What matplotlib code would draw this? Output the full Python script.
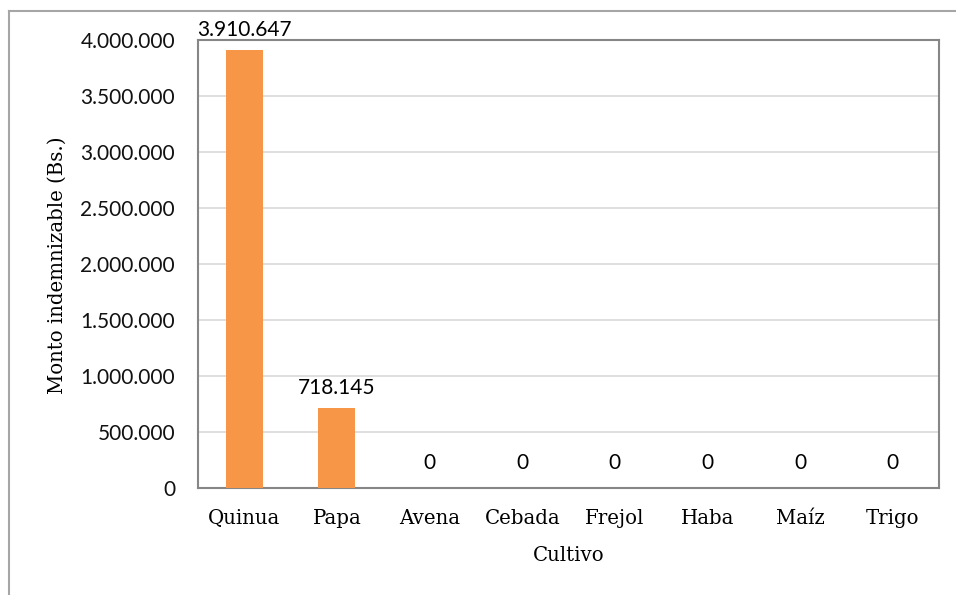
import matplotlib.pyplot as plt
import numpy as np
from matplotlib.lines import Line2D
from matplotlib.ticker import FuncFormatter, MultipleLocator

cultivos = ["Quinua", "Papa", "Avena", "Cebada", "Frejol", "Haba", "Maíz", "Trigo"]
montos = [3910647, 718145, 0, 0, 0, 0, 0, 0]


def miles(v):
    return "{:,.0f}".format(v).replace(",", ".")


W, H = 956, 595
fig = plt.figure(figsize=(W / 100, H / 100), dpi=100)
ax = fig.add_axes([198 / W, 1 - 488 / H, (939 - 198) / W, (488 - 40) / H])

ind = np.arange(len(cultivos))
ax.bar(ind, montos, 0.4, color="#F79646", zorder=3)

ax.set_xlim(-0.5, len(cultivos) - 0.5)
ax.set_ylim(0, 4000000)
ax.yaxis.set_major_locator(MultipleLocator(500000))
ax.yaxis.set_major_formatter(FuncFormatter(lambda v, p: miles(v)))
ax.grid(axis="y", color="#d9d9d9", linewidth=1.2, zorder=0)

for s in ax.spines.values():
    s.set_color("#868686")
    s.set_linewidth(1.5)

ax.tick_params(length=0)
ax.tick_params(axis="y", pad=16.5, labelsize=15, labelcolor="#111111")
ax.tick_params(axis="x", pad=15)
for t in ax.get_yticklabels():
    t.set_family("Lato")
ax.set_xticks(ind)
ax.set_xticklabels(cultivos, family="DejaVu Serif", fontsize=14.2)

for i, v in enumerate(montos):
    ax.annotate(miles(v), (i, v), xytext=(0, 7 if v else 18), textcoords="offset points",
                ha="center", va="bottom" if v else "center", family="Lato", fontsize=15,
                annotation_clip=False)

ax.set_xlabel("Cultivo", family="DejaVu Serif", fontsize=14.2, labelpad=13)
fig.text(57 / W, 1 - 265 / H, "Monto indemnizable (Bs.)", rotation=90, ha="center",
         va="center", family="DejaVu Serif", fontsize=14.2)

# marco exterior
fig.add_artist(Line2D([9 / W, 9 / W], [0, 1 - 11 / H], transform=fig.transFigure,
                      color="#a6a6a6", linewidth=1.5))
fig.add_artist(Line2D([9 / W, 1], [1 - 11 / H, 1 - 11 / H], transform=fig.transFigure,
                      color="#a6a6a6", linewidth=1.5))

fig.savefig("out.png", dpi=100)
